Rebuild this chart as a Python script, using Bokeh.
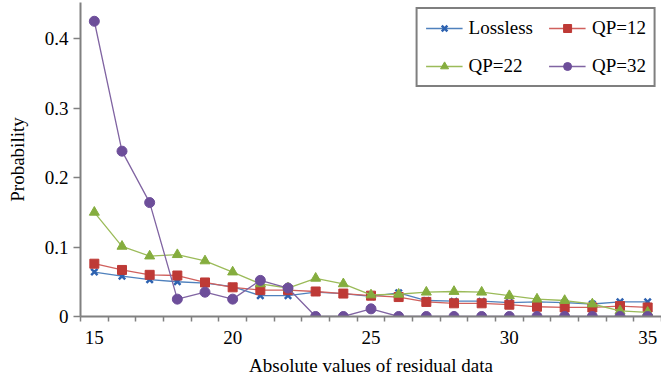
from bokeh.plotting import figure
from bokeh.models import Range1d, FixedTicker, Legend, LegendItem, CustomJSTickFormatter
from bokeh.embed import file_html
from bokeh.resources import INLINE

# ---- data ----
residual = list(range(15, 36))
lossless = [0.064, 0.058, 0.053, 0.050, 0.048, 0.043, 0.030, 0.030, 0.035, 0.033, 0.029,
            0.034, 0.023, 0.022, 0.022, 0.020, 0.021, 0.020, 0.018, 0.021, 0.021]
qp12 = [0.076, 0.067, 0.060, 0.059, 0.049, 0.042, 0.038, 0.038, 0.036, 0.033, 0.030,
        0.028, 0.021, 0.019, 0.019, 0.017, 0.014, 0.013, 0.013, 0.015, 0.013]
qp22 = [0.150, 0.101, 0.087, 0.089, 0.080, 0.064, 0.047, 0.041, 0.055, 0.047, 0.031,
        0.032, 0.035, 0.036, 0.035, 0.030, 0.025, 0.023, 0.018, 0.008, 0.006]
qp32 = [0.425, 0.238, 0.164, 0.025, 0.035, 0.025, 0.052, 0.041, 0.0, 0.0, 0.011,
        0.0, 0.0, 0.0, 0.0, 0.0, 0.0, 0.0, 0.0, 0.0, 0.0]
series_names = ["Lossless", "QP=12", "QP=22", "QP=32"]
x_tick_values = [15, 20, 25, 30, 35]
x_minor_ticks = [v + 0.5 for v in range(14, 36)]
y_tick_values = [0, 0.1, 0.2, 0.3, 0.4]
x_title = "Absolute values of residual data"
y_title = "Probability"

FONT = "Liberation Serif"

p = figure(width=661, height=381, output_backend="svg", toolbar_location=None,
           x_range=Range1d(14.5, 35.5), y_range=Range1d(0, 0.452),
           min_border_left=80, min_border_right=0, min_border_top=2,
           min_border_bottom=65, background_fill_color="white")
p.outline_line_color = None
p.xgrid.visible = False
p.ygrid.visible = False

styles = {
    "Lossless": (lossless, "#4F81BD", "#2E62B0", "x"),
    "QP=12": (qp12, "#D0605D", "#BE3A36", "square"),
    "QP=22": (qp22, "#9BBB59", "#85AD3E", "triangle"),
    "QP=32": (qp32, "#8064A2", "#6D4E9A", "circle"),
}

items = {}
for name in series_names:
    vals, lc, mc, mk = styles[name]
    r1 = p.line(residual, vals, line_color=lc, line_width=1.3)
    if mk == "x":
        r2 = p.scatter(residual, vals, marker="x", size=9, line_color=mc, line_width=2.5)
    else:
        r2 = p.scatter(residual, vals, marker=mk, size=10 if mk != "square" else 9,
                       fill_color=mc, line_color=mc)
    items[name] = LegendItem(label=name, renderers=[r1, r2])

# legend fills column by column: order so rows read Lossless | QP=12, QP=22 | QP=32
legend_order = ["Lossless", "QP=22", "QP=12", "QP=32"]
legend = Legend(items=[items[n] for n in legend_order], ncols=2, location="top_right",
                label_text_font=FONT, label_text_font_size="19px",
                label_text_color="black",
                glyph_width=37, glyph_height=20, label_height=20,
                label_standoff=6, spacing=16, padding=8, margin=5,
                border_line_color="black", border_line_width=2,
                background_fill_color="white", background_fill_alpha=1.0)
p.add_layout(legend)

# axes
xa = p.xaxis[0]
xa.ticker = FixedTicker(ticks=x_tick_values, minor_ticks=x_minor_ticks)
xa.major_tick_line_color = None
xa.minor_tick_in = 0
xa.minor_tick_out = 5
xa.minor_tick_line_color = "#808080"
xa.minor_tick_line_width = 1.5
xa.axis_line_color = "#808080"
xa.axis_line_width = 2
xa.major_label_text_font = FONT
xa.major_label_text_font_size = "19px"
xa.major_label_text_color = "black"
xa.major_label_standoff = 8
xa.axis_label = x_title
xa.axis_label_text_font = FONT
xa.axis_label_text_font_size = "19px"
xa.axis_label_text_font_style = "normal"
xa.axis_label_text_color = "black"
xa.axis_label_standoff = 8

ya = p.yaxis[0]
ya.ticker = FixedTicker(ticks=y_tick_values, minor_ticks=[])
ya.formatter = CustomJSTickFormatter(code="return tick == 0 ? '0' : tick.toFixed(1);")
ya.major_tick_in = 0
ya.major_tick_out = 7
ya.major_tick_line_color = "#808080"
ya.major_tick_line_width = 1.5
ya.minor_tick_line_color = None
ya.axis_line_color = "#808080"
ya.axis_line_width = 2
ya.major_label_text_font = FONT
ya.major_label_text_font_size = "19px"
ya.major_label_text_color = "black"
ya.major_label_standoff = 5
ya.axis_label = y_title
ya.axis_label_text_font = FONT
ya.axis_label_text_font_size = "19px"
ya.axis_label_text_font_style = "normal"
ya.axis_label_text_color = "black"
ya.axis_label_standoff = 14

open("out.html", "w").write(file_html(p, INLINE))
